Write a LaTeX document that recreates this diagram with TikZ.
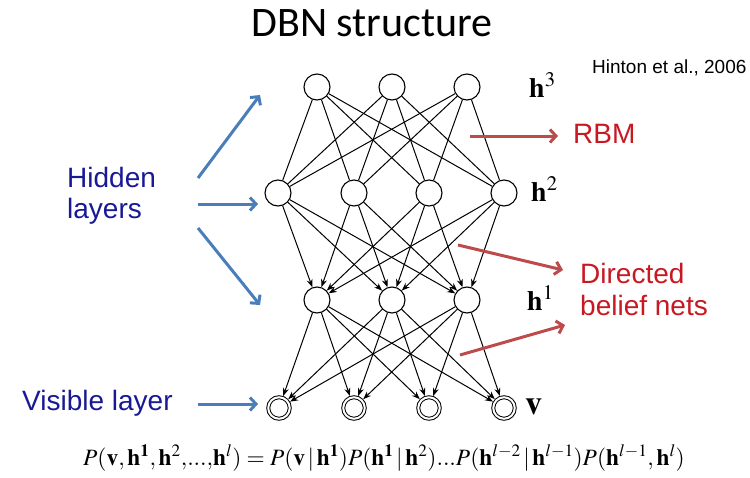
\documentclass[tikz,border=0pt]{standalone}
\usepackage{mathptmx}
\usepackage[no-math]{fontspec}
\setmainfont{Liberation Serif}
\newfontfamily\arialf{Liberation Sans}
\newfontfamily\calibf{Carlito}
\usetikzlibrary{arrows.meta}
\definecolor{bluetxt}{RGB}{25,25,150}
\definecolor{redtxt}{RGB}{200,25,35}
\definecolor{bluearr}{RGB}{74,126,187}
\definecolor{redarr}{RGB}{190,75,75}
\begin{document}
\begin{tikzpicture}[x=1pt,y=-1pt,
  unit/.style={circle,draw,line width=1.1pt,minimum size=26pt,inner sep=0pt},
  vis/.style={circle,draw,line width=1pt,double,double distance=2pt,minimum size=21.5pt,inner sep=0pt,outer sep=2pt},
  und/.style={line width=1pt},
  dir/.style={line width=1pt,-{Stealth[length=8pt,width=6pt]}},
  bluearrow/.style={bluearr,line width=3pt,-{Straight Barb[length=6pt,width=13pt]}},
  redarrow/.style={redarr,line width=3pt,-{Straight Barb[length=6pt,width=13pt]}},
  lbl/.style={anchor=base west,inner sep=0pt,font=\fontsize{28}{32}\selectfont},
  redlbl/.style={anchor=base west,inner sep=0pt,redtxt,align=left,font=\arialf\fontsize{28}{32}\selectfont},
  bluelbl/.style={anchor=base west,inner sep=0pt,bluetxt,align=left,font=\arialf\fontsize{28}{31}\selectfont}
]
\useasboundingbox[fill=white] (0,0) rectangle (750,477);

% title and citation
\node[anchor=base,inner sep=0pt,font=\calibf\fontsize{42}{48}\selectfont] (title) at (372,36) {DBN structure};
\node[anchor=base west,inner sep=0pt,font=\arialf\fontsize{19}{22}\selectfont] (cite) at (592,73) {Hinton et al., 2006};

% layers
\foreach \i/\x in {1/317,2/392,3/467} \node[unit] (c\i) at (\x,87) {};
\foreach \i/\x in {1/278,2/354,3/429,4/504} \node[unit] (b\i) at (\x,193) {};
\foreach \i/\x in {1/317,2/392,3/467} \node[unit] (a\i) at (\x,300) {};
\foreach \i/\x in {1/279,2/354,3/429,4/504} \node[vis] (v\i) at (\x,408) {};

% connections
\foreach \i in {1,2,3} \foreach \j in {1,2,3,4} \draw[und] (c\i) -- (b\j);
\foreach \j in {1,2,3,4} \foreach \i in {1,2,3} \draw[dir] (b\j) -- (a\i);
\foreach \i in {1,2,3} \foreach \j in {1,2,3,4} \draw[dir] (a\i) -- (v\j);

% layer labels
\node[lbl] (l3) at (529,97) {$\mathbf{h}^{3}$};
\node[lbl] (l2) at (531,201) {$\mathbf{h}^{2}$};
\node[lbl] (l1) at (527,310) {$\mathbf{h}^{1}$};
\node[lbl,font=\fontsize{34}{38}\selectfont] (l0) at (525,414) {$\mathbf{v}$};

% red annotations
\node[redlbl] (rbm) at (573,143) {RBM};
\node[redlbl] (dbn) at (580,315) {Directed\\belief nets};
\coordinate (r1s) at (470,136); \coordinate (r1e) at (558,136);
\coordinate (r2s) at (458,245); \coordinate (r2e) at (563,270);
\coordinate (r3s) at (460,355); \coordinate (r3e) at (565,325);
\draw[redarrow] (r1s) -- (r1e);
\draw[redarrow] (r2s) -- (r2e);
\draw[redarrow] (r3s) -- (r3e);

% blue annotations
\node[bluelbl] (hid) at (67,218) {Hidden\\layers};
\node[bluelbl] (visl) at (22,410) {Visible layer};
\coordinate (b1s) at (198,178); \coordinate (b1e) at (260,95);
\coordinate (b2s) at (198,204); \coordinate (b2e) at (258,204);
\coordinate (b3s) at (198,228); \coordinate (b3e) at (260,305);
\coordinate (b4s) at (198,404); \coordinate (b4e) at (258,404);
\draw[bluearrow] (b1s) -- (b1e);
\draw[bluearrow] (b2s) -- (b2e);
\draw[bluearrow] (b3s) -- (b3e);
\draw[bluearrow] (b4s) -- (b4e);

% equation
\node[anchor=base,inner sep=0pt,font=\fontsize{23.4}{27}\selectfont] (eq) at (384,465)
 {$P(\mathbf{v},\mathbf{h}^{\mathbf{1}},\mathbf{h}^{2}{,}...{,}\mathbf{h}^{l})=P(\mathbf{v}\,|\,\mathbf{h}^{\mathbf{1}})P(\mathbf{h}^{\mathbf{1}}\,|\,\mathbf{h}^{2})...P(\mathbf{h}^{l-2}\,|\,\mathbf{h}^{l-1})P(\mathbf{h}^{l-1},\mathbf{h}^{l})$};
\end{tikzpicture}
\end{document}
